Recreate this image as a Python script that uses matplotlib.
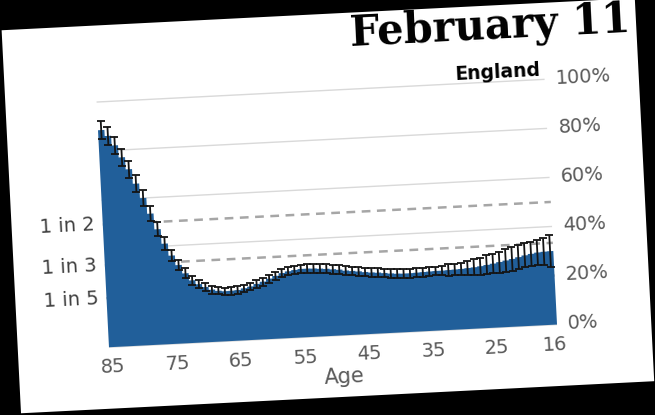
import matplotlib
matplotlib.use("Agg")
import matplotlib.pyplot as plt
from matplotlib.patches import Rectangle
from matplotlib.transforms import Affine2D

# data, oldest age first (the chart runs 85 -> 16)
ages = list(range(85, 15, -1))
positive = [88.5, 86.0, 82.0, 77.0, 72.0, 66.0, 60.0, 53.5, 47.0, 41.0,
            36.0, 32.0, 28.5, 25.5, 23.8, 22.5, 21.3, 20.7, 20.4, 20.4,
            20.6, 21.2, 21.8, 22.7, 23.5, 24.6, 25.6, 26.6, 27.2, 27.6,
            27.9, 27.9, 27.8, 27.6, 27.4, 27.1, 26.8, 26.3, 26.0, 25.7,
            25.3, 25.0, 24.8, 24.5, 24.2, 24.0, 23.9, 23.9, 24.0, 24.1,
            24.2, 24.3, 24.3, 24.4, 24.5, 24.6, 24.8, 25.0, 25.3, 25.7,
            26.1, 26.6, 27.1, 27.6, 28.2, 28.8, 29.3, 29.7, 29.9, 30.0]
error = [3.7, 3.7, 3.6, 3.5, 3.5, 3.4, 3.2, 3.0, 2.8, 2.6,
         2.4, 2.2, 2.0, 1.8, 1.7, 1.6, 1.6, 1.5, 1.5, 1.5,
         1.5, 1.5, 1.5, 1.5, 1.6, 1.6, 1.6, 1.7, 1.7, 1.7,
         1.8, 1.8, 1.8, 1.8, 1.8, 1.8, 1.8, 1.8, 1.8, 1.8,
         1.8, 1.8, 1.8, 1.8, 1.8, 1.8, 1.8, 1.8, 1.8, 1.8,
         1.7, 1.6, 1.9, 2.3, 2.3, 2.5, 2.8, 3.2, 3.4, 3.9,
         4.0, 4.3, 4.5, 4.8, 4.8, 4.9, 4.9, 5.1, 5.4, 6.4]
y_ticks = [0, 20, 40, 60, 80, 100]
y_labels = ["0%", "20%", "40%", "60%", "80%", "100%"]
x_ticks = [85, 75, 65, 55, 45, 35, 25, 16]
odds_values = [50, 100 / 3, 20]
odds_labels = ["1 in 2", "1 in 3", "1 in 5"]
title = "February 11"
subtitle = "England"
x_title = "Age"

ANG = 2.9          # the photographed page is tilted a little
W, H = 655, 415
BLUE = "#215f9a"

fig = plt.figure(figsize=(W / 100, H / 100), dpi=100, facecolor="black")
ax = fig.add_axes([102.2 / W, 79 / H, 448.6 / W, 245.5 / H])
ax.set_xlim(85.5, 15.5)
ax.set_ylim(0, 100)
ax.axis("off")

rot = Affine2D().rotate_deg_around(W / 2, H / 2, ANG)
T = ax.transData + rot      # data -> tilted page
P = rot                     # pixels -> tilted page

# white page
ax.add_patch(Rectangle((11, 17.5), 634, 383.5, transform=P, facecolor="white",
                       edgecolor="none", zorder=0, clip_on=False))

# grid and odds lines
ax.hlines(y_ticks, 85.5, 15.5, colors="#d9d9d9", linewidth=1.0,
          transform=T, zorder=1, clip_on=False)
ax.hlines(odds_values, 85.5, 15.5, colors="#a6a6a6", linewidth=1.8,
          linestyles=(0, (3.5, 2.6)), transform=T, zorder=1.5, clip_on=False)

# area drawn as one stepped patch (one step per year of age) + error bars
edges = [a + 0.5 for a in ages] + [ages[-1] - 0.5]
ax.stairs(positive, edges, fill=True, color=BLUE, linewidth=0,
          transform=T, zorder=2, clip_on=False)
ax.errorbar(ages, positive, yerr=error, fmt="none", ecolor="#141414",
            elinewidth=1.3, capsize=3.2, capthick=1.3, transform=T, zorder=3,
            clip_on=False)

tk = dict(transform=T, rotation=ANG, rotation_mode="anchor", clip_on=False)
for v, lab in zip(y_ticks, y_labels):
    ax.text(13.8, v, lab, ha="left", va="center", fontsize=14,
            color="#595959", **tk)
for a in x_ticks:
    ax.text(a, -8.2, str(a), ha="center", va="center", fontsize=14,
            color="#595959", **tk)
for v, lab in zip(odds_values, odds_labels):
    ax.text(86.75, v, lab, ha="right", va="center", fontsize=14,
            color="#3f3f3f", **tk)

pk = dict(transform=P, rotation=ANG, rotation_mode="anchor", clip_on=False)
ax.text(336, 37, x_title, ha="center", va="center", fontsize=15,
        color="#595959", **pk)
ax.text(546.7, 334, subtitle, ha="right", va="center", fontsize=13.5,
        fontweight="bold", color="black", **pk)
ax.text(499, 379.5, title, ha="center", va="center", fontsize=30,
        fontweight="bold", family="DejaVu Serif", color="black", **pk)

fig.savefig("out.png", dpi=100, facecolor="black")
plt.close(fig)
